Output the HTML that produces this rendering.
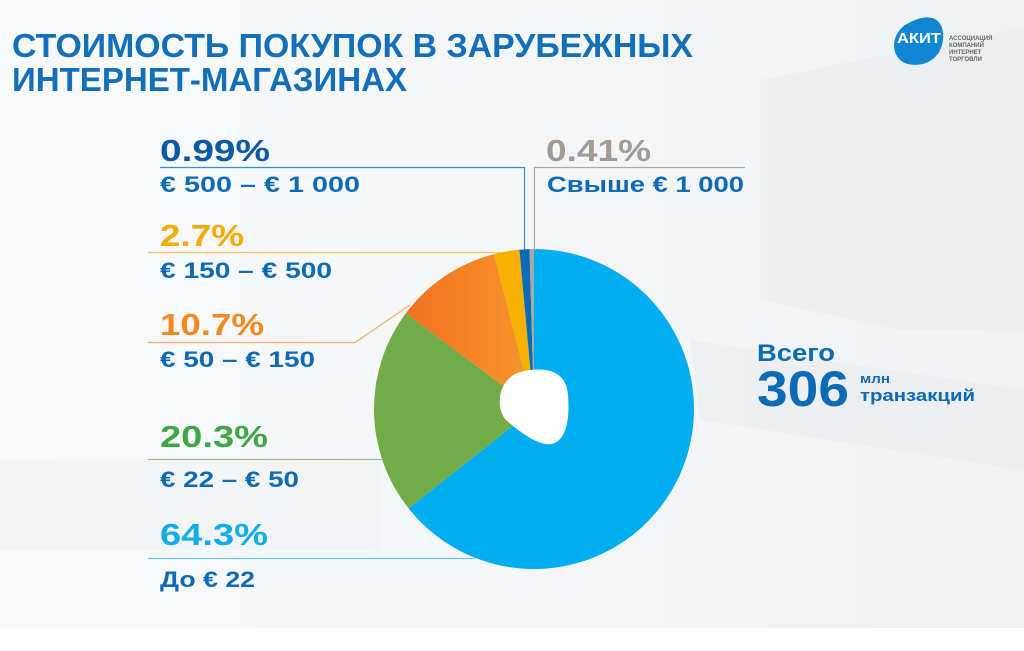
<!DOCTYPE html>
<html><head><meta charset="utf-8"><style>
html,body{margin:0;padding:0;width:1024px;height:651px;overflow:hidden;background:#fff}
svg{display:block}
text{font-family:"Liberation Sans",sans-serif;font-weight:bold}
</style></head><body>
<svg width="1024" height="651" viewBox="0 0 1024 651" xmlns="http://www.w3.org/2000/svg">
<defs>
<linearGradient id="bg" x1="0" y1="0" x2="1" y2="0">
<stop offset="0" stop-color="#f8f9fa"/><stop offset="0.6" stop-color="#f3f5f7"/><stop offset="1" stop-color="#eff1f3"/>
</linearGradient>
<linearGradient id="or" x1="0" y1="0" x2="1" y2="0">
<stop offset="0" stop-color="#f37121"/><stop offset="1" stop-color="#f6962a"/>
</linearGradient>
</defs>
<rect width="1024" height="628" fill="url(#bg)"/>
<polygon points="760,80 1010,30 1024,30 1024,330 900,330 760,300" fill="#eaecef" opacity="0.6"/>
<polygon points="690,340 1024,390 1024,470 700,420" fill="#e8eaed" opacity="0.5"/>
<rect x="0" y="460" width="380" height="90" fill="#eef0f2" opacity="0.5"/>
<rect x="0" y="628" width="1024" height="23" fill="#ffffff"/>

<text x="12" y="57" font-size="33" fill="#136fba" textLength="681" lengthAdjust="spacingAndGlyphs">СТОИМОСТЬ ПОКУПОК В ЗАРУБЕЖНЫХ</text>
<text x="12" y="91" font-size="33" fill="#136fba" textLength="395" lengthAdjust="spacingAndGlyphs">ИНТЕРНЕТ-МАГАЗИНАХ</text>

<path d="M905,25 C930,10 945,18 943,40 C941,58 925,68 908,64 C892,60 888,38 905,25Z" fill="#1187d4"/>
<text x="897" y="43" font-size="15" fill="#fff" textLength="44" lengthAdjust="spacingAndGlyphs">АКИТ</text>
<text x="949" y="40" font-size="6" fill="#666">АССОЦИАЦИЯ</text>
<text x="949" y="47" font-size="6" fill="#666">КОМПАНИЙ</text>
<text x="949" y="54" font-size="6" fill="#666">ИНТЕРНЕТ</text>
<text x="949" y="61" font-size="6" fill="#666">ТОРГОВЛИ</text>

<g>
<path d="M534,409 L534,249 A160,160 0 1 1 408.6,508.4 Z" fill="#00adee"/>
<path d="M534,409 L408.6,508.4 A160,160 0 0 1 405.9,313.2 Z" fill="#71ac48"/>
<path d="M534,409 L405.9,313.2 A160,160 0 0 1 494.0,254.1 Z" fill="url(#or)"/>
<path d="M534,409 L494.0,254.1 A160,160 0 0 1 519.4,249.7 Z" fill="#f5b000"/>
<path d="M534,409 L519.4,249.7 A160,160 0 0 1 529.5,249.1 Z" fill="#0a6cb4"/>
<path d="M534,409 L529.5,249.1 A160,160 0 0 1 534,249 Z" fill="#a8a8a8"/>
</g>
<path d="M520,372 C545,366 566,370 568,395 C570,420 566,440 552,444 C538,446 520,432 506,420 C496,410 496,380 520,372Z" fill="#fff"/>

<polyline points="160,167.5 524.5,167.5 524.5,250" fill="none" stroke="#3a8fd0" stroke-width="1.2"/>
<polyline points="745,167.5 534.5,167.5 534.5,250" fill="none" stroke="#aaa" stroke-width="1.2"/>
<line x1="148" y1="252.5" x2="500" y2="252.5" stroke="#f7c35a" stroke-width="1.2"/>
<polyline points="148,342.5 355,342.5 410,305" fill="none" stroke="#f7b06a" stroke-width="1.2"/>
<line x1="148" y1="459.5" x2="382" y2="459.5" stroke="#8cc28d" stroke-width="1.2"/>
<line x1="148" y1="558.5" x2="475" y2="558.5" stroke="#6cc8f0" stroke-width="1.2"/>

<text x="160" y="161" font-size="31" fill="#0b5aa8" textLength="110" lengthAdjust="spacingAndGlyphs">0.99%</text>
<text x="160" y="192" font-size="22" fill="#0d6ab4" textLength="200" lengthAdjust="spacingAndGlyphs">€ 500 – € 1 000</text>
<text x="546" y="161" font-size="31" fill="#a39a96" textLength="105" lengthAdjust="spacingAndGlyphs">0.41%</text>
<text x="547" y="192" font-size="22" fill="#0d6ab4" textLength="197" lengthAdjust="spacingAndGlyphs">Свыше € 1 000</text>
<text x="160" y="246" font-size="31" fill="#f5ab00" textLength="84" lengthAdjust="spacingAndGlyphs">2.7%</text>
<text x="160" y="278" font-size="22" fill="#0d6ab4" textLength="172" lengthAdjust="spacingAndGlyphs">€ 150 – € 500</text>
<text x="160" y="335" font-size="31" fill="#f5881f" textLength="104" lengthAdjust="spacingAndGlyphs">10.7%</text>
<text x="160" y="367" font-size="22" fill="#0d6ab4" textLength="155" lengthAdjust="spacingAndGlyphs">€ 50 – € 150</text>
<text x="160" y="447" font-size="31" fill="#3fa648" textLength="108" lengthAdjust="spacingAndGlyphs">20.3%</text>
<text x="160" y="487" font-size="22" fill="#0d6ab4" textLength="139" lengthAdjust="spacingAndGlyphs">€ 22 – € 50</text>
<text x="160" y="545" font-size="31" fill="#11adea" textLength="108" lengthAdjust="spacingAndGlyphs">64.3%</text>
<text x="160" y="587" font-size="22" fill="#0d6ab4" textLength="95" lengthAdjust="spacingAndGlyphs">До € 22</text>

<text x="757" y="361" font-size="24" fill="#0d6ab4" textLength="78" lengthAdjust="spacingAndGlyphs">Всего</text>
<text x="757" y="406" font-size="50" fill="#0d6ab4" textLength="92" lengthAdjust="spacingAndGlyphs">306</text>
<text x="860" y="383" font-size="13" fill="#0d6ab4" textLength="30" lengthAdjust="spacingAndGlyphs">млн</text>
<text x="860" y="401" font-size="17" fill="#0d6ab4" textLength="115" lengthAdjust="spacingAndGlyphs">транзакций</text>
</svg>
</body></html>
